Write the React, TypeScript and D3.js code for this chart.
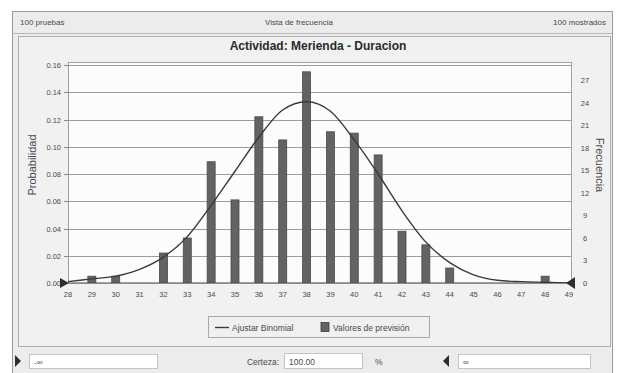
import React from "react";
import * as d3 from "d3";

const categories = [28, 29, 30, 31, 32, 33, 34, 35, 36, 37, 38, 39, 40, 41, 42, 43, 44, 45, 46, 47, 48, 49];
const forecastValues = [0, 0.005, 0.005, 0, 0.022, 0.033, 0.089, 0.061, 0.122, 0.105, 0.155, 0.111, 0.11, 0.094, 0.038, 0.028, 0.011, 0, 0, 0, 0.005, 0];
const binomialFit = [0.001, 0.003, 0.005, 0.01, 0.019, 0.034, 0.057, 0.082, 0.107, 0.127, 0.133, 0.126, 0.105, 0.08, 0.053, 0.03, 0.015, 0.006, 0.002, 0.001, 0.0005, 0];
const probTicks = [0, 0.02, 0.04, 0.06, 0.08, 0.1, 0.12, 0.14, 0.16];
const freqTicks = [0, 3, 6, 9, 12, 15, 18, 21, 24, 27];

const FONT = "'Liberation Sans', Arial, sans-serif";

export default function App() {
  const left = 68, right = 571, top = 65, bottom = 283;
  const x = d3.scaleLinear().domain([28, 49]).range([left, right - 2]);
  const y = d3.scaleLinear().domain([0, 0.16]).range([bottom, top]);
  const yf = d3.scaleLinear().domain([0, 29]).range([bottom, top]);
  const line = d3
    .line<number>()
    .x((_, i) => x(categories[i]))
    .y((d) => y(d))
    .curve(d3.curveMonotoneX);
  const barW = 8;
  const txt = "#4a4a4a";

  return (
    <svg width={621} height={373} style={{ position: "absolute", left: 0, top: 0 }} fontFamily={FONT}>
      <rect x={0} y={0} width={621} height={373} fill="#ffffff" />
      {/* outer frame */}
      <rect x={12.5} y={11.5} width={600} height={362} fill="#ececec" stroke="#9a9a9a" />
      <line x1={12} x2={612} y1={33.5} y2={33.5} stroke="#b5b5b5" />
      <text x={20} y={25} fontSize={8} fill={txt}>100 pruebas</text>
      <text x={299} y={25} fontSize={8} fill={txt} textAnchor="middle">Vista de frecuencia</text>
      <text x={606} y={25} fontSize={8} fill={txt} textAnchor="end">100 mostrados</text>
      {/* chart panel */}
      <rect x={18.5} y={36.5} width={592} height={310} fill="#f1f1f1" stroke="#b0b0b0" />
      <text x={318} y={50} fontSize={12} fontWeight="bold" fill="#2a2a2a" textAnchor="middle">
        Actividad: Merienda - Duracion
      </text>
      {/* plot area */}
      <rect x={left + 0.5} y={top - 2.5} width={right - left} height={bottom - top + 2} fill="#fcfcfc" stroke="#a0a0a0" />
      {probTicks.map((t) => (
        <g key={"g" + t}>
          {t > 0 && (
            <line x1={left} x2={right} y1={Math.round(y(t)) + 0.5} y2={Math.round(y(t)) + 0.5} stroke="#9c9c9c" />
          )}
          <line x1={left - 4} x2={left} y1={Math.round(y(t)) + 0.5} y2={Math.round(y(t)) + 0.5} stroke="#888" />
          <text x={left - 7} y={y(t) + 3} fontSize={7.5} fill={txt} textAnchor="end">
            {t.toFixed(2)}
          </text>
        </g>
      ))}
      {freqTicks.map((t) => (
        <text key={"f" + t} x={585} y={yf(t) + 3} fontSize={7.5} fill={txt} textAnchor="middle">
          {t}
        </text>
      ))}
      {categories.map((c) => (
        <text key={"c" + c} x={x(c)} y={297} fontSize={7.5} fill={txt} textAnchor="middle">
          {c}
        </text>
      ))}
      {/* bars */}
      {forecastValues.map((v, i) =>
        v > 0 ? (
          <rect
            key={"b" + i}
            x={x(categories[i]) - barW / 2}
            y={y(v)}
            width={barW}
            height={bottom - y(v)}
            fill="#636363"
            stroke="#4a4a4a"
            strokeWidth={0.8}
          />
        ) : null
      )}
      {/* fit line */}
      <path d={line(binomialFit) || ""} fill="none" stroke="#3a3a3a" strokeWidth={1.4} />
      {/* baseline */}
      <line x1={left} x2={right} y1={bottom + 0.5} y2={bottom + 0.5} stroke="#8a8a8a" />
      {/* certainty grabbers */}
      <path d={`M${x(28) - 8},${bottom - 5} L${x(28) + 1},${bottom} L${x(28) - 8},${bottom + 5} Z`} fill="#2e2e2e" />
      <path d={`M${x(49) + 6},${bottom - 6} L${x(49) - 3},${bottom} L${x(49) + 6},${bottom + 6} Z`} fill="#2e2e2e" />
      {/* axis titles */}
      <text transform="translate(36,165) rotate(-90)" fontSize={11} fill={txt} textAnchor="middle">
        Probabilidad
      </text>
      <text transform="translate(596,165) rotate(90)" fontSize={11} fill={txt} textAnchor="middle">
        Frecuencia
      </text>
      {/* legend */}
      <rect x={208.5} y={316.5} width={221} height={21} fill="#f0f0f0" stroke="#a8a8a8" />
      <line x1={215} x2={229} y1={327.5} y2={327.5} stroke="#3a3a3a" strokeWidth={1.4} />
      <text x={232} y={330.5} fontSize={8.5} fill={txt}>Ajustar Binomial</text>
      <rect x={321} y={322.5} width={8} height={9} fill="#636363" stroke="#3a3a3a" strokeWidth={0.8} />
      <text x={333} y={330.5} fontSize={8.5} fill={txt}>Valores de previsión</text>
      {/* bottom controls */}
      <path d="M15,355 L21,361 L15,367 Z" fill="#2e2e2e" />
      <rect x={29.5} y={354.5} width={128} height={14} fill="#ffffff" stroke="#c4c4c4" />
      <text x={34} y={364.5} fontSize={8} fill={txt}>-∞</text>
      <text x={279} y={364.5} fontSize={8.5} fill={txt} textAnchor="end">Certeza:</text>
      <rect x={284.5} y={353.5} width={78} height={15} fill="#ffffff" stroke="#c4c4c4" />
      <text x={289} y={364.5} fontSize={8.5} fill={txt}>100.00</text>
      <text x={375} y={364.5} fontSize={8.5} fill={txt}>%</text>
      <path d="M449,355 L443,361 L449,367 Z" fill="#2e2e2e" />
      <rect x={458.5} y={354.5} width={132} height={14} fill="#ffffff" stroke="#c4c4c4" />
      <text x={463} y={364.5} fontSize={8} fill={txt}>∞</text>
    </svg>
  );
}
